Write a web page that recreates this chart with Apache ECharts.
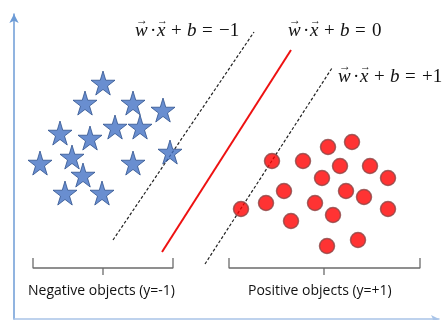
<!doctype html>
<html>
<head>
<meta charset="UTF-8">
<title>SVM</title>
<script src="https://cdn.jsdelivr.net/npm/echarts@6/dist/echarts.min.js"></script>
<style>
  html, body { margin: 0; padding: 0; background: #fff; }
  #main { width: 442px; height: 320px; }
</style>
</head>
<body>
<div id="main"></div>
<script>
// negative class (stars)
var negPoints = [
    [89, 236], [71, 216], [119, 216], [149, 209], [46, 186],
    [101, 192], [126, 192], [76, 181], [58, 162], [26, 156],
    [119, 156], [156, 167], [69, 144], [51, 126], [88, 126]
];
// positive class (circles)
var posPoints = [
    [338, 177], [314, 172], [258, 158], [289, 158], [326, 153],
    [356, 153], [308, 141], [374, 141], [270, 128], [332, 128],
    [350, 122], [227, 110], [252, 116], [301, 116], [319, 104],
    [374, 110], [277, 98], [344, 79], [313, 73]
];
// margin lines and hyperplane
var lineMinus = [[99, 79], [240, 287]];
var lineZero = [[148, 67], [277, 269]];
var linePlus = [[191, 55], [318, 251]];
// brackets under the two groups
var bracketNeg = [[19, 61], [19, 51], [159, 51], [159, 61]];
var bracketNegTick = [[89, 51], [89, 44]];
var bracketPos = [[215, 61], [215, 51], [406, 51], [406, 61]];
var bracketPosTick = [[310, 51], [310, 44]];

var groupLabels = ['Negative objects (y=-1)', 'Positive objects (y=+1)'];
var eqRight = ['\u22121', '0', '+1'];

var starPath = 'path://M50,0 L61,35 L98,35 L68,57 L79,91 L50,70 L21,91 L32,57 L2,35 L39,35 Z';

var myChart = echarts.init(document.getElementById('main'));

function seg(data, color, type, width) {
    return {
        type: 'line',
        data: data,
        symbol: 'none',
        silent: true,
        lineStyle: { color: color, type: type, width: width },
        z: 1
    };
}

// w·x + b = c, with vector arrows above w and x
function equation(x, y, rhs) {
    var serif = '"Liberation Serif", "DejaVu Serif", serif';
    var parts = [
        ['w', 0, 'italic 19px '], ['\u00b7', 15, '19px '], ['x', 22, 'italic 19px '],
        ['+', 36, '19px '], ['b', 52, 'italic 19px '], ['=', 67, '19px '], [rhs, 84, '19px ']
    ];
    var children = parts.map(function (p) {
        return { type: 'text', x: p[1], y: 0, style: { text: p[0], font: p[2] + serif, fill: '#111', verticalAlign: 'middle' } };
    });
    children.push({ type: 'text', x: 1, y: -10, style: { text: '\u2192', font: '12px ' + serif, fill: '#111', verticalAlign: 'middle' } });
    children.push({ type: 'text', x: 22, y: -10, style: { text: '\u2192', font: '11px ' + serif, fill: '#111', verticalAlign: 'middle' } });
    return { type: 'group', x: x, y: y, children: children };
}

var option = {
    animation: false,
    backgroundColor: '#fff',
    grid: { left: 14, right: 3, top: 14, bottom: 1 },
    xAxis: {
        type: 'value', min: 0, max: 425,
        axisLine: { show: true, lineStyle: { color: '#a9c4e8', width: 1.5 }, symbol: ['none', 'arrow'], symbolSize: [6, 8] },
        axisTick: { show: false }, axisLabel: { show: false }, splitLine: { show: false }
    },
    yAxis: {
        type: 'value', min: 0, max: 305,
        axisLine: { show: true, lineStyle: { color: '#6c9bd6', width: 1.5 }, symbol: ['none', 'arrow'], symbolSize: [7, 9] },
        axisTick: { show: false }, axisLabel: { show: false }, splitLine: { show: false }
    },
    series: [
        seg(lineMinus, '#222', [3, 2], 1.2),
        seg(lineZero, '#ee1111', 'solid', 2),
        seg(linePlus, '#222', [3, 2], 1.2),
        seg(bracketNeg, '#6b6b6b', 'solid', 1.3),
        seg(bracketNegTick, '#6b6b6b', 'solid', 1.3),
        seg(bracketPos, '#6b6b6b', 'solid', 1.3),
        seg(bracketPosTick, '#6b6b6b', 'solid', 1.3),
        {
            type: 'scatter',
            data: negPoints,
            symbol: starPath,
            symbolSize: 24,
            itemStyle: { color: '#4472c4', borderColor: '#2f528f', borderWidth: 1 },
            z: 3
        },
        {
            type: 'scatter',
            data: posPoints,
            symbol: 'circle',
            symbolSize: 15,
            itemStyle: { color: '#ff0000', borderColor: '#8c4646', borderWidth: 1.5 },
            z: 3
        }
    ],
    graphic: [
        equation(135, 31, eqRight[0]),
        equation(288, 31, eqRight[1]),
        equation(338, 77, eqRight[2]),
        { type: 'text', left: 28, top: 284, style: { text: groupLabels[0], font: '14px "Open Sans", "Liberation Sans", sans-serif', fill: '#111' } },
        { type: 'text', left: 248, top: 284, style: { text: groupLabels[1], font: '14px "Open Sans", "Liberation Sans", sans-serif', fill: '#111' } }
    ]
};
myChart.setOption(option);
</script>
</body>
</html>
